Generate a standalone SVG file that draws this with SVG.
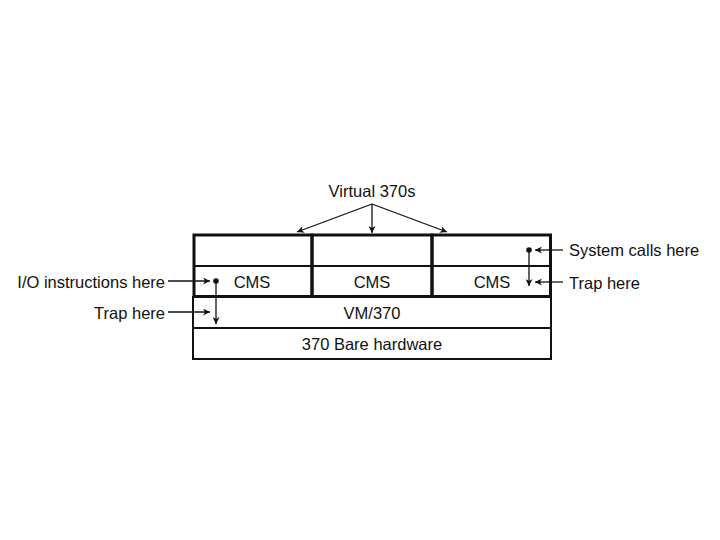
<svg xmlns="http://www.w3.org/2000/svg" width="720" height="540" viewBox="0 0 720 540">
<style>
text{font-family:"Liberation Sans",Arial,sans-serif;font-size:16.5px;fill:#111}
.thick{fill:none;stroke:#111;stroke-width:3}
.thin{fill:none;stroke:#111;stroke-width:2}
.ln{stroke:#111;stroke-width:1.3;fill:none}
</style>
<defs>
<marker id="ah" viewBox="0 0 10 10" refX="10" refY="5" markerWidth="10" markerHeight="7" markerUnits="userSpaceOnUse" orient="auto">
<path d="M0,0 L10,5 L0,10 L3,5 Z" fill="#111"/>
</marker>
</defs>
<rect width="720" height="540" fill="#fff"/>
<g id="hardware">
<rect class="thin" x="193" y="328" width="358" height="31"/>
<text x="372" y="350" text-anchor="middle">370 Bare hardware</text>
</g>
<g id="vm370">
<rect class="thin" x="193" y="297" width="358" height="31"/>
<text x="372" y="318.5" text-anchor="middle">VM/370</text>
</g>
<g id="vm1">
<rect class="thick" x="194" y="235" width="118" height="61.5"/>
<line class="thin" x1="194" y1="266" x2="312" y2="266"/>
<text x="252" y="287.5" text-anchor="middle">CMS</text>
</g>
<g id="vm2">
<rect class="thick" x="312" y="235" width="120" height="61.5"/>
<line class="thin" x1="312" y1="266" x2="432" y2="266"/>
<text x="372" y="287.5" text-anchor="middle">CMS</text>
</g>
<g id="vm3">
<rect class="thick" x="432" y="235" width="118.5" height="61.5"/>
<line class="thin" x1="432" y1="266" x2="550.5" y2="266"/>
<text x="492" y="287.5" text-anchor="middle">CMS</text>
</g>
<g id="labels">
<text x="372" y="197" text-anchor="middle">Virtual 370s</text>
<text x="165" y="288" text-anchor="end">I/O instructions here</text>
<text x="165" y="319" text-anchor="end">Trap here</text>
<text x="569" y="256">System calls here</text>
<text x="569" y="289">Trap here</text>
</g>
<g id="connectors">
<line class="ln" x1="372" y1="204" x2="297" y2="232" marker-end="url(#ah)"/>
<line class="ln" x1="372" y1="204" x2="372" y2="233" marker-end="url(#ah)"/>
<line class="ln" x1="372" y1="204" x2="447" y2="232" marker-end="url(#ah)"/>
<line class="ln" x1="168" y1="281" x2="210" y2="281" marker-end="url(#ah)"/>
<circle cx="216" cy="281" r="2.8" fill="#111"/>
<line class="ln" x1="216" y1="281" x2="216" y2="324" marker-end="url(#ah)"/>
<line class="ln" x1="168" y1="312" x2="210" y2="312" marker-end="url(#ah)"/>
<line class="ln" x1="563" y1="250" x2="535" y2="250" marker-end="url(#ah)"/>
<circle cx="529" cy="250" r="2.8" fill="#111"/>
<line class="ln" x1="529" y1="250" x2="529" y2="286" marker-end="url(#ah)"/>
<line class="ln" x1="563" y1="282" x2="535" y2="282" marker-end="url(#ah)"/>
</g>
</svg>
